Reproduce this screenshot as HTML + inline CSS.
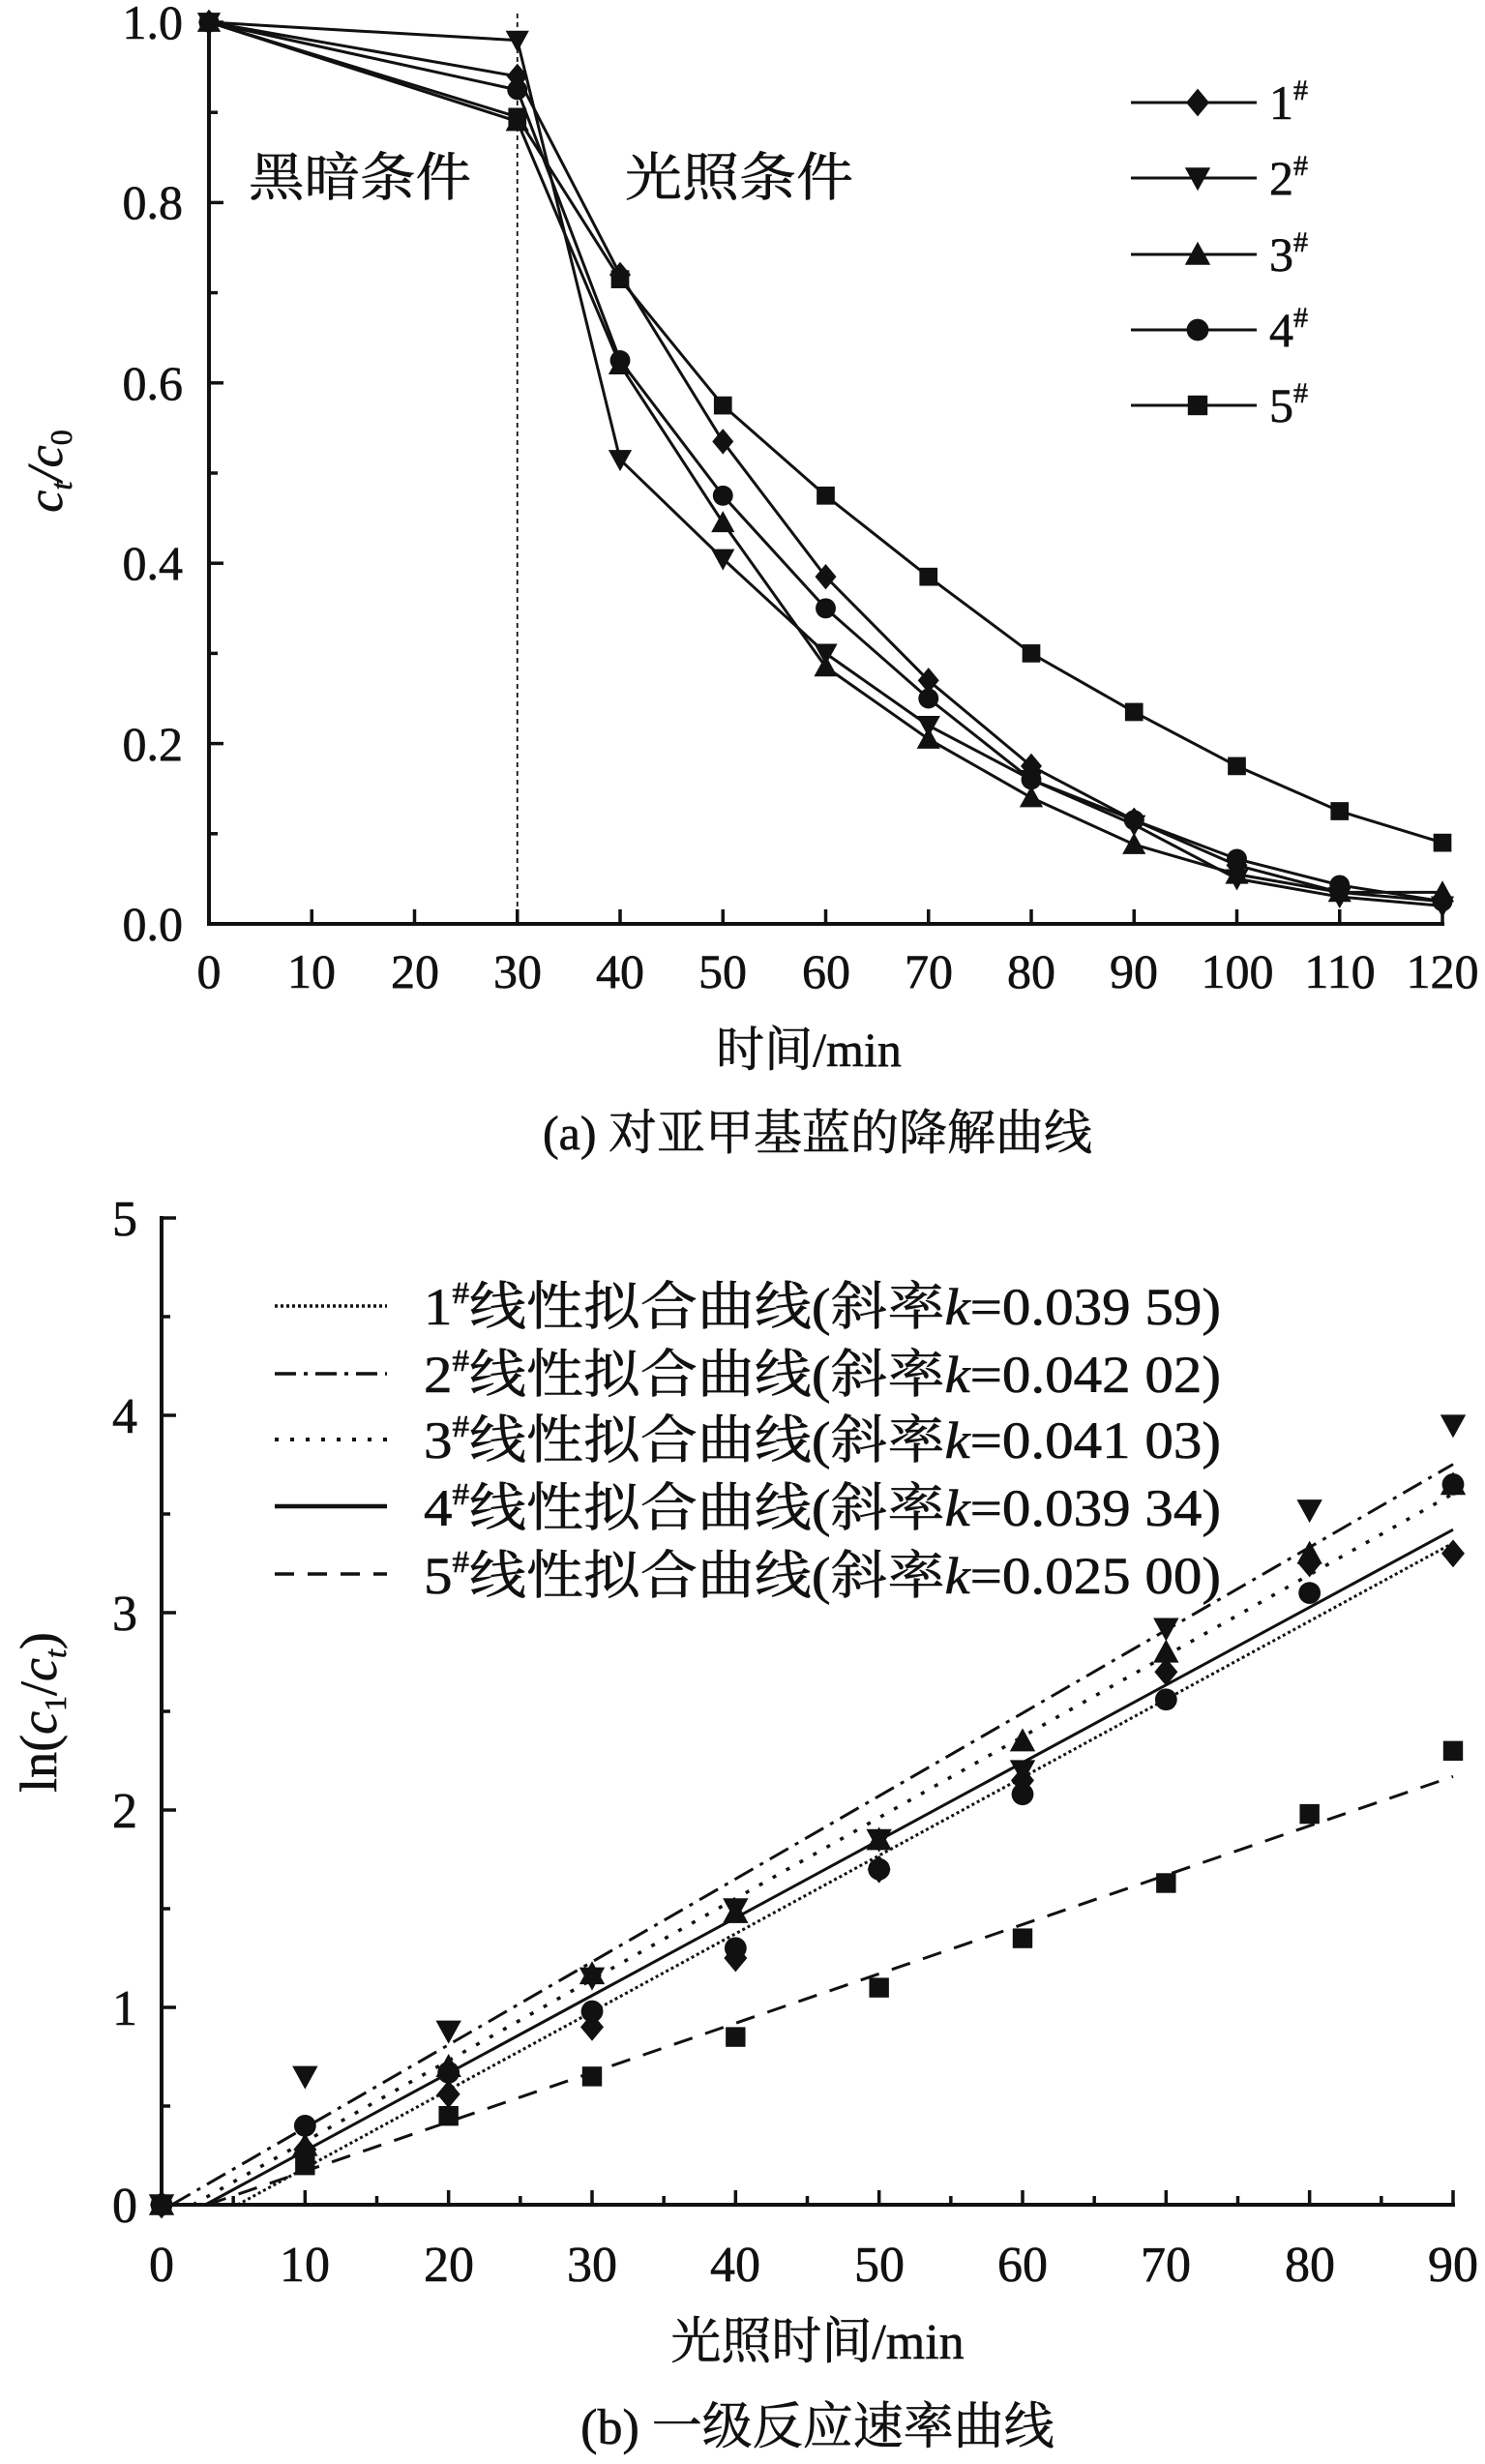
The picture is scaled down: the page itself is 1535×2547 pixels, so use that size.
<!DOCTYPE html>
<html><head><meta charset="utf-8"><style>
html,body{margin:0;padding:0;background:#fff;}
svg{display:block;}
text{font-family:"Liberation Serif","Noto Serif CJK SC","Noto Sans CJK SC",serif;fill:#111;stroke:#111;stroke-width:0.6;}
</style></head><body>
<svg id="s" width="1535" height="2547" viewBox="0 0 1535 2547" xmlns="http://www.w3.org/2000/svg">
<g id="g" stroke="#111" fill="none" stroke-width="3"></g>
<g font-size="50" text-anchor="end">
<text x="189" y="40">1.0</text><text x="189" y="226">0.8</text><text x="189" y="413">0.6</text><text x="189" y="599">0.4</text><text x="189" y="786">0.2</text><text x="189" y="972">0.0</text>
</g>
<g font-size="50" text-anchor="middle">
<text x="216" y="1021">0</text><text x="322" y="1021">10</text><text x="429" y="1021">20</text><text x="535" y="1021">30</text><text x="641" y="1021">40</text><text x="747" y="1021">50</text><text x="854" y="1021">60</text><text x="960" y="1021">70</text><text x="1066" y="1021">80</text><text x="1172" y="1021">90</text><text x="1279" y="1021">100</text><text x="1385" y="1021">110</text><text x="1491" y="1021">120</text>
</g>
<text x="836" y="1102" font-size="50" text-anchor="middle">时间/min</text>
<text x="845" y="1188" font-size="50" text-anchor="middle">(a) 对亚甲基蓝的降解曲线</text>
<text transform="translate(64,487) rotate(-90)" font-size="52" text-anchor="middle" font-style="italic">c<tspan font-size="32" dy="10">t</tspan><tspan dy="-10">/c</tspan><tspan font-size="32" dy="10" font-style="normal">0</tspan></text>
<text x="257" y="202" font-size="54" textLength="230" lengthAdjust="spacingAndGlyphs">黑暗条件</text>
<text x="646" y="202" font-size="54" textLength="236" lengthAdjust="spacingAndGlyphs">光照条件</text>
<g font-size="50">
<text x="1312" y="123">1<tspan font-size="30" dy="-20">#</tspan></text>
<text x="1312" y="201">2<tspan font-size="30" dy="-20">#</tspan></text>
<text x="1312" y="280">3<tspan font-size="30" dy="-20">#</tspan></text>
<text x="1312" y="358">4<tspan font-size="30" dy="-20">#</tspan></text>
<text x="1312" y="436">5<tspan font-size="30" dy="-20">#</tspan></text>
</g>
<g font-size="52" text-anchor="end">
<text x="142" y="2297">0</text><text x="142" y="2093">1</text><text x="142" y="1889">2</text><text x="142" y="1685">3</text><text x="142" y="1481">4</text><text x="142" y="1277">5</text>
</g>
<g font-size="52" text-anchor="middle">
<text x="167" y="2358">0</text><text x="315" y="2358">10</text><text x="464" y="2358">20</text><text x="612" y="2358">30</text><text x="760" y="2358">40</text><text x="909" y="2358">50</text><text x="1057" y="2358">60</text><text x="1205" y="2358">70</text><text x="1354" y="2358">80</text><text x="1502" y="2358">90</text>
</g>
<text x="845" y="2438" font-size="52" text-anchor="middle">光照时间/min</text>
<text x="845" y="2526" font-size="52" text-anchor="middle">(b) 一级反应速率曲线</text>
<text transform="translate(58,1770) rotate(-90)" font-size="54" text-anchor="middle">ln(<tspan font-style="italic">c</tspan><tspan font-size="32" dy="10">1</tspan><tspan dy="-10">/</tspan><tspan font-style="italic">c</tspan><tspan font-size="32" dy="10" font-style="italic">t</tspan><tspan dy="-10">)</tspan></text>
<g font-size="54">
<text x="438" y="1369" textLength="824" lengthAdjust="spacingAndGlyphs">1<tspan font-size="32" dy="-22">#</tspan><tspan dy="22">线性拟合曲线(斜率</tspan><tspan font-style="italic">k</tspan>=0.039 59)</text>
<text x="438" y="1439" textLength="824" lengthAdjust="spacingAndGlyphs">2<tspan font-size="32" dy="-22">#</tspan><tspan dy="22">线性拟合曲线(斜率</tspan><tspan font-style="italic">k</tspan>=0.042 02)</text>
<text x="438" y="1507" textLength="824" lengthAdjust="spacingAndGlyphs">3<tspan font-size="32" dy="-22">#</tspan><tspan dy="22">线性拟合曲线(斜率</tspan><tspan font-style="italic">k</tspan>=0.041 03)</text>
<text x="438" y="1577" textLength="824" lengthAdjust="spacingAndGlyphs">4<tspan font-size="32" dy="-22">#</tspan><tspan dy="22">线性拟合曲线(斜率</tspan><tspan font-style="italic">k</tspan>=0.039 34)</text>
<text x="438" y="1647" textLength="824" lengthAdjust="spacingAndGlyphs">5<tspan font-size="32" dy="-22">#</tspan><tspan dy="22">线性拟合曲线(斜率</tspan><tspan font-style="italic">k</tspan>=0.025 00)</text>
</g>
</svg>
<script>
var NS="http://www.w3.org/2000/svg",G=document.getElementById('g');
function el(t,a){var e=document.createElementNS(NS,t);for(var k in a)e.setAttribute(k,a[k]);G.appendChild(e);return e;}
function line(x1,y1,x2,y2,extra){var a={x1:x1,y1:y1,x2:x2,y2:y2};for(var k in extra)a[k]=extra[k];return el('line',a);}
function marker(type,x,y,s){s=s||10;var p;
 if(type==0)p=[[x,y-s*1.2],[x+s*1.0,y],[x,y+s*1.2],[x-s*1.0,y]];
 else if(type==1)p=[[x-s*1.1,y-s*0.9],[x+s*1.1,y-s*0.9],[x,y+s*1.1]];
 else if(type==2)p=[[x-s*1.1,y+s*0.9],[x+s*1.1,y+s*0.9],[x,y-s*1.1]];
 if(type==3)return el('circle',{cx:x,cy:y,r:s*0.95,fill:'#111',stroke:'none'});
 if(type==4)return el('rect',{x:x-s*0.85,y:y-s*0.85,width:s*1.7,height:s*1.7,fill:'#111',stroke:'none'});
 el('polygon',{points:p.map(function(q){return q.join(',')}).join(' '),fill:'#111',stroke:'none'});}
var ax0=216,ax1=1491,ay0=955,ay1=23;
function AX(v){return ax0+(ax1-ax0)*v/120;}function AY(v){return ay0-(ay0-ay1)*v;}
line(ax0,ay0,ax1+2,ay0,{'stroke-width':4});line(ax0,ay0+2,ax0,ay1-5,{'stroke-width':4});
for(var i=0;i<=12;i++)line(AX(i*10),ay0,AX(i*10),ay0-15,{'stroke-width':3.5});
for(var i=0;i<=10;i++)line(ax0,AY(i/10),ax0+(i%2==0?15:9),AY(i/10),{'stroke-width':3.5});
line(AX(30),ay0,AX(30),ay1-10,{'stroke-width':1.8,'stroke-dasharray':'5,4'});
var xs=[0,30,40,50,60,70,80,90,100,110,120];
var D=[[1,0.94,0.72,0.535,0.385,0.27,0.175,0.115,0.065,0.035,0.025],
[1,0.98,0.515,0.405,0.3,0.22,0.16,0.11,0.05,0.03,0.02],
[1,0.89,0.62,0.445,0.285,0.205,0.14,0.088,0.055,0.035,0.035],
[1,0.925,0.625,0.475,0.35,0.25,0.16,0.115,0.072,0.043,0.025],
[1,0.895,0.715,0.575,0.475,0.385,0.3,0.235,0.175,0.125,0.09]];
D.forEach(function(d,k){el('polyline',{points:d.map(function(v,i){return AX(xs[i])+','+AY(v)}).join(' '),'stroke-width':3});
 d.forEach(function(v,i){marker(k,AX(xs[i]),AY(v),11);});
 var ly=[106,184,263,341,419][k];line(1169,ly,1299,ly,{'stroke-width':3});marker(k,1238,ly,12);});
var bx0=167,bx1=1502,by0=2279,by1=1259;
function BX(v){return bx0+(bx1-bx0)*v/90;}function BY(v){return by0-(by0-by1)*v/5;}
line(bx0,by0,bx1+2,by0,{'stroke-width':4});line(bx0,by0+2,bx0,by1-2,{'stroke-width':4});
for(var i=0;i<=18;i++)line(BX(i*5),by0,BX(i*5),by0-(i%2==0?15:9),{'stroke-width':3.5});
for(var i=0;i<=10;i++)line(bx0,BY(i/2),bx0+(i%2==0?15:9),BY(i/2),{'stroke-width':3.5});
var fits=[[0.03959,-0.21,'3,3',3],[0.04202,-0.03,'22,8,4,8',3],[0.04103,-0.09,'4,12',3.5],[0.03934,-0.12,'',3],[0.025,-0.08,'20,14',3]];
fits.forEach(function(f){var xs0=Math.max(0,-f[1]/f[0]);var a={'stroke-width':f[3]};if(f[2])a['stroke-dasharray']=f[2];
 line(BX(xs0),BY(f[0]*xs0+f[1]),BX(90),BY(f[0]*90+f[1]),a);});
var ly2=[1350,1420,1488,1557,1627];
fits.forEach(function(f,k){var a={'stroke-width':k==3?4.5:f[3]+0.5};if(f[2])a['stroke-dasharray']=f[2];line(284,ly2[k],400,ly2[k],a);});
var bx=[0,10,20,30,40,50,60,70,80,90];
var B=[[0,0.28,0.56,0.9,1.25,1.7,2.15,2.7,3.25,3.3],
[0,0.65,0.88,1.15,1.5,1.85,2.2,2.92,3.52,3.95],
[0,0.3,0.7,1.17,1.48,1.85,2.35,2.8,3.3,3.65],
[0,0.4,0.67,0.98,1.3,1.7,2.08,2.56,3.1,3.65],
[0,0.2,0.45,0.65,0.85,1.1,1.35,1.63,1.98,2.3]];
B.forEach(function(d,k){d.forEach(function(v,i){marker(k,BX(bx[i]),BY(v),12);});});
</script>
</body></html>
